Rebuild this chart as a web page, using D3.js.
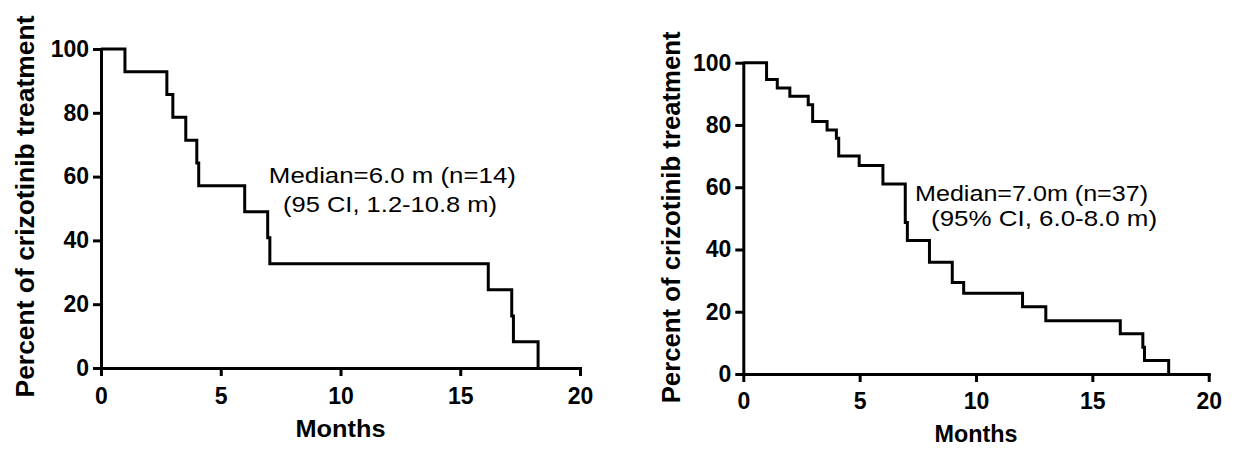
<!DOCTYPE html>
<html>
<head>
<meta charset="utf-8">
<script src="https://cdn.jsdelivr.net/npm/d3@7"></script>
<style>
  body { margin: 0; background: #fff; }
  svg { display: block; }
  .axis path, .axis line { stroke: #000; stroke-width: 3px; }
  .axis path { stroke-linecap: square; }
  .axis text { font-family: Arial, "Liberation Sans", sans-serif; font-weight: bold; font-size: 23px; fill: #000; }
  .axis-title { font-family: Arial, "Liberation Sans", sans-serif; font-weight: bold; fill: #000; }
  .note { font-family: Arial, "Liberation Sans", sans-serif; fill: #000; }
  .km { fill: none; stroke: #000; stroke-width: 3px; stroke-linejoin: miter; }
</style>
</head>
<body>
<div id="chart"></div>
<script>
// Kaplan-Meier steps (months, percent still on treatment)
const leftTimes = [0, 1.0, 2.75, 3.0, 3.54, 4.0, 4.08, 6.0, 6.96, 7.05, 16.17, 17.15, 17.22, 18.25];
const leftSurv = [100, 92.9, 85.7, 78.6, 71.4, 64.3, 57.1, 49.0, 40.8, 32.7, 24.5, 16.3, 8.2, 0];

const rightTimes = [0, 1.0, 1.46, 2.0, 2.79, 2.98, 3.6, 4.0, 4.1, 4.98, 6.0, 6.96, 7.05, 8.0, 8.98, 9.47, 12.0, 13.0, 16.2, 17.17, 17.24, 18.28];
const rightSurv = [100, 94.6, 91.9, 89.2, 86.5, 81.1, 78.4, 75.7, 70.0, 67.0, 61.0, 48.7, 42.9, 35.9, 29.4, 25.9, 21.6, 17.1, 12.9, 8.6, 4.3, 0];

const xTicks = [0, 5, 10, 15, 20];
const yTicks = [0, 20, 40, 60, 80, 100];

const xTitle = "Months";
const yTitle = "Percent of crizotinib treatment";

const leftNote = ["Median=6.0 m (n=14)", "(95 CI, 1.2-10.8 m)"];
const rightNote = ["Median=7.0m (n=37)", "(95% CI, 6.0-8.0 m)"];

const width = 1236;
const height = 453;

const svg = d3.select("#chart")
  .append("svg")
  .attr("width", width)
  .attr("height", height)
  .attr("viewBox", [0, 0, width, height]);

// one survival panel
function drawPanel(p) {
  const x = d3.scaleLinear().domain([0, 20]).range([p.left, p.right]);
  const y = d3.scaleLinear().domain([0, 100]).range([p.bottom, p.top]);

  const g = svg.append("g");

  g.append("g")
    .attr("class", "axis")
    .attr("transform", `translate(0,${p.bottom})`)
    .call(d3.axisBottom(x).tickValues(xTicks).tickSize(8).tickSizeOuter(0).tickPadding(p.xPad).tickFormat(d3.format("d")));

  g.append("g")
    .attr("class", "axis")
    .attr("transform", `translate(${p.left},0)`)
    .call(d3.axisLeft(y).tickValues(yTicks).tickSize(8).tickSizeOuter(0).tickPadding(4).tickFormat(d3.format("d")));

  const pts = p.times.map((t, i) => [t, p.surv[i]]);
  const line = d3.line()
    .x((d) => x(d[0]))
    .y((d) => y(d[1]))
    .curve(d3.curveStepAfter);

  g.append("path")
    .datum(pts)
    .attr("class", "km")
    .attr("d", line);

  // axis titles
  g.append("text")
    .attr("class", "axis-title")
    .attr("font-size", 24)
    .attr("text-anchor", "middle")
    .attr("x", x(10))
    .attr("y", p.xTitleY)
    .attr("textLength", p.xTitleLen)
    .attr("lengthAdjust", "spacingAndGlyphs")
    .text(xTitle);

  g.append("text")
    .attr("class", "axis-title")
    .attr("font-size", 26)
    .attr("text-anchor", "middle")
    .attr("transform", `translate(${p.yTitleX},${(p.top + p.bottom) / 2 + p.yTitleShift}) rotate(-90)`)
    .attr("textLength", p.yTitleLen)
    .attr("lengthAdjust", "spacingAndGlyphs")
    .text(yTitle);

  // median annotation
  p.note.forEach((s, i) => {
    g.append("text")
      .attr("class", "note")
      .attr("font-size", p.noteSize)
      .attr("x", x(p.noteAt[i][0]))
      .attr("y", y(p.noteAt[i][1]))
      .attr("textLength", p.noteLen[i])
      .attr("lengthAdjust", "spacingAndGlyphs")
      .text(s);
  });
}

drawPanel({
  left: 101, right: 580, top: 49, bottom: 368,
  times: leftTimes, surv: leftSurv, xPad: 12,
  xTitleY: 437, xTitleLen: 90,
  yTitleX: 34, yTitleShift: -2, yTitleLen: 382,
  note: leftNote, noteSize: 21.5,
  noteAt: [[7.01, 58.0], [7.6, 48.9]], noteLen: [247, 214]
});

drawPanel({
  left: 743.3, right: 1208.7, top: 62.7, bottom: 374,
  times: rightTimes, surv: rightSurv, xPad: 11,
  xTitleY: 442, xTitleLen: 83,
  yTitleX: 680, yTitleShift: -1, yTitleLen: 372,
  note: rightNote, noteSize: 22,
  noteAt: [[7.38, 55.7], [8.07, 47.4]], noteLen: [233, 226]
});
</script>
</body>
</html>
